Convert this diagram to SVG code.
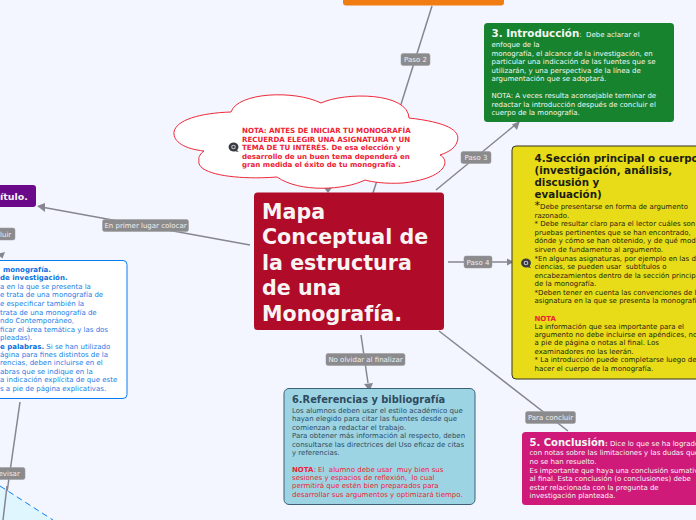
<svg xmlns="http://www.w3.org/2000/svg" width="696" height="520" viewBox="0 0 696 520">
<style>
text{font-family:"DejaVu Sans",Verdana,sans-serif;white-space:pre}
.s{font-size:7px}
.w{fill:#f4f8f4}
.k{fill:#1c1c10}
.d{fill:#2f4a5e}
.r{fill:#ee2233}
.b{fill:#1a7de6}
.bb{fill:#0a6fe0;font-weight:bold}
.h{font-weight:bold}
.conn{stroke:#868690;stroke-width:1.5;fill:none}
.head{fill:#868690;stroke:none}
.lb rect{fill:#8b8b8e;stroke:#9a9a9c;stroke-width:.5}
.lb text{font-size:7px;fill:#eeeeee}
</style>
<defs>
<g id="ic"><path d="M-5,0a5,4.600 0 1 1 8.600,3.200l1.600,1.800l-3.400,-0.800a5,4.600 0 0 1 -6.800,-4.200z" fill="#3a3a40"/><circle r="2.300" fill="#b8c0cc"/><circle r="1.200" fill="#3a3a40"/></g>
</defs>
<rect width="696" height="520" fill="#f3f6ff"/>
<g id="connectors">
<path class="conn" d="M432,6L373,193"/>
<path class="conn" d="M436,190L515,125"/><path class="head" d="M520,121L512,124.500L517,130z"/>
<path class="conn" d="M448,262L507,262"/><path class="head" d="M514,262L507,258.500V265.500z"/>
<path class="conn" d="M439,331L568,431"/>
<path class="conn" d="M361,335L368,383"/><path class="head" d="M369.500,391L364,384L373,383z"/>
<path class="conn" d="M250,245L44,207.500"/><path class="head" d="M37,206L45,203V212z"/>
<path class="head" d="M2.500,258.500L-3,254L5,252z"/>
<path class="conn" d="M20,402L3,520"/>
<path class="head" d="M328,193L322,185H334z"/>
</g>
<g id="n-orange"><rect x="343" y="-20" width="161" height="25.500" rx="3" fill="#f07c12"/></g>
<g id="n-green"><rect x="484" y="23" width="190" height="99" rx="3.500" fill="#17832f"/>
<text x="491.500" y="37" class="w"><tspan class="h" font-size="10.300">3. Introducción</tspan><tspan font-size="7">:  Debe aclarar el</tspan></text>
<text class="s w"><tspan x="491.500" y="46.500">enfoque de la</tspan><tspan x="491.500" y="55.500">monografía, el alcance de la investigación, en</tspan><tspan x="491.500" y="64">particular una indicación de las fuentes que se</tspan><tspan x="491.500" y="72.500">utilizarán, y una perspectiva de la línea de</tspan><tspan x="491.500" y="81">argumentación que se adoptará.</tspan><tspan x="491.500" y="98">NOTA: A veces resulta aconsejable terminar de</tspan><tspan x="491.500" y="106.500">redactar la introducción después de concluir el</tspan><tspan x="491.500" y="115">cuerpo de la monografía.</tspan></text></g>
<g id="n-yellow"><rect x="512" y="146" width="200" height="233" rx="4" fill="#e8dc18" stroke="#333322" stroke-width="1"/>
<text class="h k" font-size="10.300"><tspan x="534.500" y="162">4.Sección principal o cuerpo</tspan><tspan x="534.500" y="174">(investigación, análisis,</tspan><tspan x="534.500" y="186">discusión y</tspan><tspan x="534.500" y="198">evaluación)</tspan></text>
<text x="534.500" y="209" class="k"><tspan font-size="11">*</tspan><tspan font-size="7">Debe presentarse en forma de argumento</tspan></text>
<text class="s k"><tspan x="534.500" y="218">razonado.</tspan><tspan x="534.500" y="226">* Debe resultar claro para el lector cuáles son las</tspan><tspan x="534.500" y="234.500">pruebas pertinentes que se han encontrado,</tspan><tspan x="534.500" y="243">dónde y cómo se han obtenido, y de qué modo</tspan><tspan x="534.500" y="251.500">sirven de fundamento al argumento.</tspan><tspan x="534.500" y="260.500">*En algunas asignaturas, por ejemplo en las de</tspan><tspan x="534.500" y="269">ciencias, se pueden usar  subtítulos o</tspan><tspan x="534.500" y="277.500">encabezamientos dentro de la sección principal</tspan><tspan x="534.500" y="286">de la monografía.</tspan><tspan x="534.500" y="294.500">*Deben tener en cuenta las convenciones de la</tspan><tspan x="534.500" y="303">asignatura en la que se presenta la monografía.</tspan><tspan x="534.500" y="329">La información que sea importante para el</tspan><tspan x="534.500" y="337">argumento no debe incluirse en apéndices, notas</tspan><tspan x="534.500" y="345">a pie de página o notas al final. Los</tspan><tspan x="534.500" y="354">examinadores no las leerán.</tspan><tspan x="534.500" y="362">* La introducción puede completarse luego de</tspan><tspan x="534.500" y="371">hacer el cuerpo de la monografía.</tspan></text>
<text x="534.500" y="320.500" class="s r h">NOTA</text>
<use href="#ic" x="526" y="263"/></g>
<g id="n-pink"><rect x="522" y="432" width="190" height="73" rx="3.500" fill="#cf1a7a"/>
<text x="529.500" y="446" class="w"><tspan class="h" font-size="10">5. Conclusión</tspan><tspan font-size="7" font-weight="bold">:</tspan><tspan font-size="7"> Dice lo que se ha logrado</tspan></text>
<text class="s w"><tspan x="529.500" y="455">con notas sobre las limitaciones y las dudas que</tspan><tspan x="529.500" y="463.500">no se han resuelto.</tspan><tspan x="529.500" y="472.500">Es importante que haya una conclusión sumativa</tspan><tspan x="529.500" y="481">al final. Esta conclusión (o conclusiones) debe</tspan><tspan x="529.500" y="489.500">estar relacionada con la pregunta de</tspan><tspan x="529.500" y="497.500">investigación planteada.</tspan></text></g>
<g id="n-blue"><rect x="284" y="388.500" width="191" height="116" rx="5" fill="#9cd4e4" stroke="#3d5f78" stroke-width="1"/>
<text x="292" y="403" class="h d" font-size="9.850">6.Referencias y bibliografía</text>
<text class="s d"><tspan x="292" y="412.500">Los alumnos deben usar el estilo académico que</tspan><tspan x="292" y="421">hayan elegido para citar las fuentes desde que</tspan><tspan x="292" y="429.500">comienzan a redactar el trabajo.</tspan><tspan x="292" y="437.500">Para obtener más información al respecto, deben</tspan><tspan x="292" y="446.500">consultarse las directrices del Uso eficaz de citas</tspan><tspan x="292" y="455">y referencias.</tspan></text>
<text x="292" y="471.500" class="s r"><tspan class="h">NOTA</tspan><tspan class="d">:</tspan> El  alumno debe usar  muy bien sus</text>
<text class="s r"><tspan x="292" y="480">sesiones y espacios de reflexión,  lo cual</tspan><tspan x="292" y="488">permitirá que estén bien preparados para</tspan><tspan x="292" y="496.500">desarrollar sus argumentos y optimizará tiempo.</tspan></text></g>
<g id="n-left"><rect x="-30" y="260.500" width="157" height="138" rx="4" fill="#fff" stroke="#0a7cf0" stroke-width="1"/>
<text class="s bb"><tspan x="3" y="272">monografía.</tspan><tspan x="0" y="280">de investigación.</tspan></text>
<text class="s b"><tspan x="0" y="289">a en la que se presenta la</tspan><tspan x="0" y="297">e trata de una monografía de</tspan><tspan x="0" y="306">e especificar también la</tspan><tspan x="0" y="314.500">trata de una monografía de</tspan><tspan x="0" y="323">ndo Contemporáneo,</tspan><tspan x="0" y="331.500">ficar el área temática y las dos</tspan><tspan x="0" y="340">pleadas).</tspan><tspan x="0" y="357">ágina para fines distintos de la</tspan><tspan x="0" y="365">rencias, deben incluirse en el</tspan><tspan x="0" y="373.500">abras que se indique en la</tspan><tspan x="0" y="382">a indicación explícita de que este</tspan><tspan x="0" y="390.500">s a pie de página explicativas.</tspan></text>
<text x="0" y="348.500" class="s b"><tspan class="bb">e palabras.</tspan> Si se han utilizado</text></g>
<g id="n-purple"><rect x="-30" y="185" width="66" height="22" rx="3" fill="#6a0a8a"/>
<text x="0" y="200" class="h" font-size="9.500" fill="#f4f4f4">ítulo.</text></g>
<g id="n-diamond"><path d="M0,486L53,520H0z" fill="#dff6ff"/><path d="M0,486L53,520" fill="none" stroke="#0a7cf0" stroke-width="1" stroke-dasharray="6 4"/><path class="conn" d="M7,486L3,520"/></g>
<g id="n-main"><rect x="254" y="192.500" width="190" height="137.500" rx="3.500" fill="#b00b28"/>
<text class="h" font-size="20.600" fill="#f8f4f4"><tspan x="262" y="219">Mapa</tspan><tspan x="262" y="244">Conceptual de</tspan><tspan x="262" y="269.500">la estructura</tspan><tspan x="262" y="295">de una</tspan><tspan x="262" y="320.500">Monografía.</tspan></text></g>
<g id="n-cloud"><path d="M231,112C238,92 295,90 321,103C345,92 408,92 409,118C445,122 462,130 457,142C455,148 449,152 440,155C450,160 448,178 403,183C385,184 372,182 365,180C345,190 300,193 277,177C240,180 195,175 199,160C198,157 201,153 204,151C185,149 173,142 174,132C176,120 200,113 231,112Z" fill="#fff" stroke="#ee2a3a" stroke-width="1"/>
<text class="h r" font-size="7.070"><tspan x="242" y="133">NOTA: ANTES DE INICIAR TU MONOGRAFÍA</tspan><tspan x="242" y="142">RECUERDA ELEGIR UNA ASIGNATURA Y UN</tspan><tspan x="242" y="150">TEMA DE TU INTERÉS. De esa elección y</tspan><tspan x="242" y="159">desarrollo de un buen tema dependerá en</tspan><tspan x="242" y="167">gran medida el éxito de tu monografía .</tspan></text>
<use href="#ic" x="233.500" y="147"/></g>
<g id="labels">
<g class="lb"><rect x="401" y="53.500" width="29" height="12" rx="2"/><text x="415.500" y="62" text-anchor="middle">Paso 2</text></g>
<g class="lb"><rect x="461" y="151.500" width="30" height="12" rx="2"/><text x="476" y="160" text-anchor="middle">Paso 3</text></g>
<g class="lb"><rect x="464" y="256" width="28" height="12" rx="2"/><text x="478" y="264.500" text-anchor="middle">Paso 4</text></g>
<g class="lb"><rect x="525.500" y="411.500" width="50" height="12" rx="2"/><text x="550.500" y="420" text-anchor="middle">Para concluir</text></g>
<g class="lb"><rect x="326" y="353.500" width="79" height="12" rx="2"/><text x="365.500" y="362" text-anchor="middle">No olvidar al finalizar</text></g>
<g class="lb"><rect x="102.500" y="219.500" width="86" height="12" rx="2"/><text x="145.500" y="228" text-anchor="middle">En primer lugar colocar</text></g>
<g class="lb"><rect x="-30" y="228" width="45" height="12" rx="2"/><text x="0" y="236.500">luir</text></g>
<g class="lb"><rect x="-30" y="467.500" width="55" height="12" rx="2"/><text x="-6" y="476">Revisar</text></g>
</g>
</svg>
